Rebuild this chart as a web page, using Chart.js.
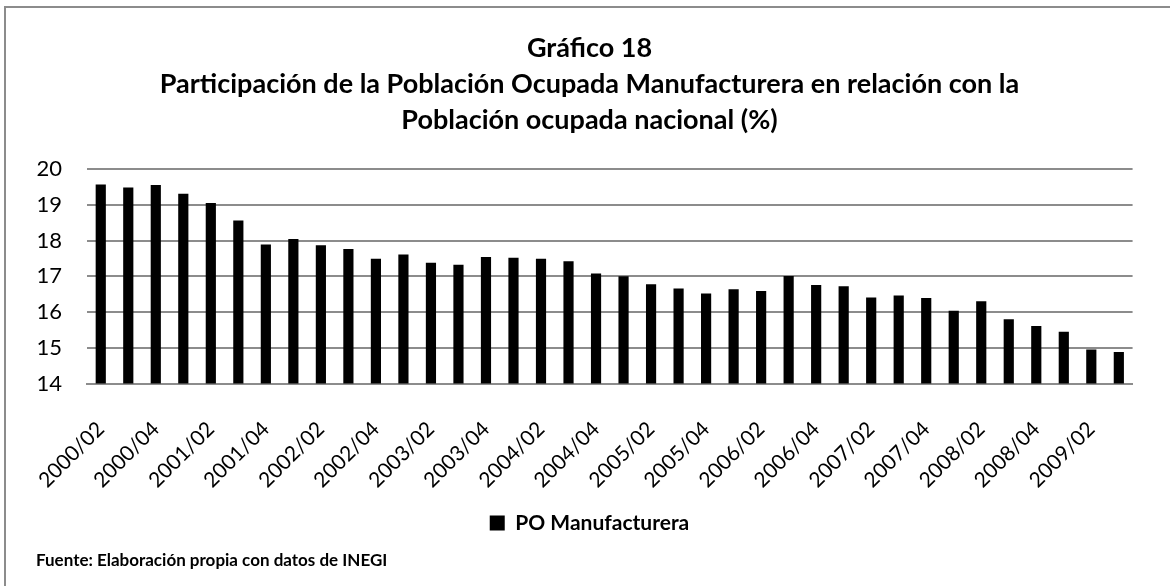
<!DOCTYPE html>
<html>
<head>
<meta charset="utf-8">
<script src="https://cdn.jsdelivr.net/npm/chart.js@4/dist/chart.umd.min.js"></script>
<style>
  html, body { margin: 0; padding: 0; background: #fff; }
  #wrap { width: 1170px; height: 586px; position: relative; }
</style>
</head>
<body>
<div id="wrap"><canvas id="c" width="1170" height="586"></canvas></div>
<script>
const categories = [
  '2000/02','2000/03','2000/04',
  '2001/01','2001/02','2001/03','2001/04',
  '2002/01','2002/02','2002/03','2002/04',
  '2003/01','2003/02','2003/03','2003/04',
  '2004/01','2004/02','2004/03','2004/04',
  '2005/01','2005/02','2005/03','2005/04',
  '2006/01','2006/02','2006/03','2006/04',
  '2007/01','2007/02','2007/03','2007/04',
  '2008/01','2008/02','2008/03','2008/04',
  '2009/01','2009/02','2009/03'
];
const poManufacturera = [
  19.57, 19.48, 19.55,
  19.31, 19.05, 18.56, 17.89,
  18.04, 17.87, 17.76, 17.49,
  17.61, 17.38, 17.32, 17.54,
  17.52, 17.49, 17.42, 17.08,
  17.00, 16.78, 16.66, 16.52,
  16.64, 16.59, 17.01, 16.76,
  16.72, 16.41, 16.46, 16.39,
  16.04, 16.30, 15.80, 15.61,
  15.45, 14.95, 14.88
];
const yTicks = [14, 15, 16, 17, 18, 19, 20];
const titleLines = [
  'Gráfico 18',
  'Participación de la Población Ocupada Manufacturera en relación con la',
  'Población ocupada nacional (%)'
];
const seriesName = 'PO Manufacturera';
const sourceNote = 'Fuente: Elaboración propia con datos de INEGI';

const FONT = 'Lato, "Open Sans", sans-serif';

const frame = {
  id: 'frame',
  beforeDraw(chart) {
    const ctx = chart.ctx;
    ctx.save();
    ctx.fillStyle = '#fff';
    ctx.fillRect(0, 0, chart.width, chart.height);
    ctx.strokeStyle = '#8c8c8c';
    ctx.lineWidth = 2;
    ctx.beginPath();
    ctx.moveTo(5, chart.height);
    ctx.lineTo(5, 7);
    ctx.lineTo(chart.width, 7);
    ctx.stroke();
    ctx.restore();
  }
};

new Chart(document.getElementById('c'), {
  type: 'bar',
  data: {
    labels: categories,
    datasets: [{
      label: seriesName,
      data: poManufacturera,
      backgroundColor: '#000',
      borderWidth: 0,
      categoryPercentage: 1,
      barPercentage: 0.37
    }]
  },
  options: {
    responsive: false,
    animation: false,
    layout: { padding: { left: 36, right: 27, top: 0, bottom: 0 } },
    plugins: {
      title: {
        display: true,
        text: titleLines,
        color: '#000',
        font: { family: FONT, size: 27, weight: 'bold', lineHeight: 1.3333 },
        padding: { top: 30, bottom: 31 }
      },
      subtitle: {
        display: true,
        position: 'bottom',
        align: 'start',
        text: sourceNote,
        color: '#000',
        font: { family: FONT, size: 17, weight: 'bold', lineHeight: 1.2 },
        padding: { top: 7, bottom: 15 }
      },
      legend: {
        display: true,
        position: 'bottom',
        labels: {
          color: '#000',
          font: { family: FONT, size: 21, weight: 'bold' },
          boxWidth: 15,
          boxHeight: 15,
          padding: 10
        }
      },
      tooltip: { enabled: false }
    },
    scales: {
      x: {
        grid: { display: false, drawTicks: false },
        border: { display: true, color: '#8c8c8c', width: 2 },
        ticks: {
          color: '#000',
          font: { family: FONT, size: 21 },
          autoSkip: false,
          maxRotation: 45,
          minRotation: 45,
          padding: 33,
          callback: function(v, i) { return i % 2 === 0 ? categories[i] : ''; }
        },
        afterFit(scale) { scale.height = 119; }
      },
      y: {
        min: 14,
        max: 20,
        afterBuildTicks(scale) { scale.ticks = yTicks.map(v => ({ value: v })); },
        grid: { color: '#8c8c8c', lineWidth: 2, drawTicks: false },
        border: { display: false },
        ticks: {
          color: '#000',
          font: { family: FONT, size: 22 },
          padding: 25
        },
        afterFit(scale) { scale.width = 51; }
      }
    }
  },
  plugins: [frame]
});
</script>
</body>
</html>
